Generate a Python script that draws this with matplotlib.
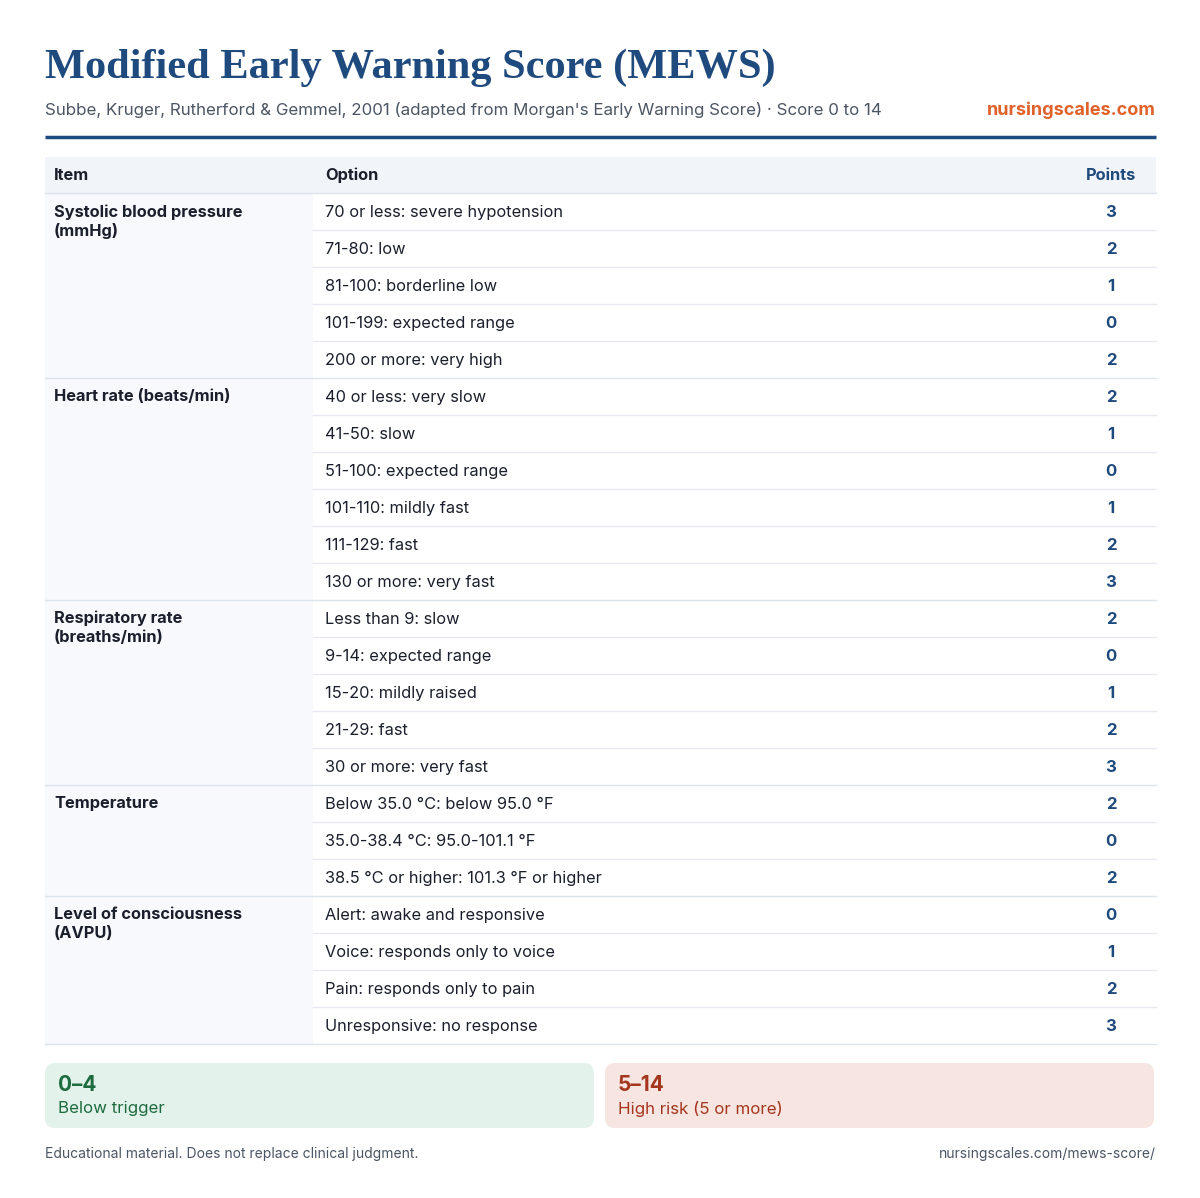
import matplotlib.pyplot as plt
from matplotlib.patches import Rectangle, FancyBboxPatch

# data
groups = ["Systolic blood pressure\n(mmHg)", "Heart rate (beats/min)",
          "Respiratory rate\n(breaths/min)", "Temperature",
          "Level of consciousness\n(AVPU)"]
options = [
    ["70 or less: severe hypotension", "71-80: low", "81-100: borderline low",
     "101-199: expected range", "200 or more: very high"],
    ["40 or less: very slow", "41-50: slow", "51-100: expected range",
     "101-110: mildly fast", "111-129: fast", "130 or more: very fast"],
    ["Less than 9: slow", "9-14: expected range", "15-20: mildly raised",
     "21-29: fast", "30 or more: very fast"],
    ["Below 35.0 °C: below 95.0 °F", "35.0-38.4 °C: 95.0-101.1 °F",
     "38.5 °C or higher: 101.3 °F or higher"],
    ["Alert: awake and responsive", "Voice: responds only to voice",
     "Pain: responds only to pain", "Unresponsive: no response"],
]
points = [[3, 2, 1, 0, 2], [2, 1, 0, 1, 2, 3], [2, 0, 1, 2, 3], [2, 0, 2], [0, 1, 2, 3]]
bands = [("0–4", "Below trigger"), ("5–14", "High risk (5 or more)")]

plt.rcParams['font.family'] = ['Inter', 'DejaVu Sans']
NAVY = "#1f4a7e"
TXT = "#1a1f2b"
GRAY = "#4b5563"

fig = plt.figure(figsize=(12, 11.98), dpi=100)
ax = fig.add_axes([0, 0, 1, 1])
ax.set_xlim(0, 1200)
ax.set_ylim(1198, 0)
ax.axis('off')

L, R = 45, 1156
ax.text(L, 68, "Modified Early Warning Score (MEWS)", family=['Liberation Serif', 'DejaVu Serif'],
        fontsize=30.5, fontweight='bold', color=NAVY, va='center')
ax.text(L, 110, "Subbe, Kruger, Rutherford & Gemmel, 2001 (adapted from Morgan's Early Warning Score) · Score 0 to 14",
        fontsize=12.2, color=GRAY, va='center')
ax.text(R, 110, "nursingscales.com", fontsize=13, fontweight='bold', color="#e0612a",
        va='center', ha='right')
ax.plot([L, R], [137, 137], color=NAVY, lw=2.5, solid_capstyle='butt')

# header
ax.add_patch(Rectangle((L, 157), R - L, 36, color="#f1f4f8", lw=0))
ax.text(54, 175, "Item", fontsize=11.8, fontweight='bold', color=TXT, va='center')
ax.text(325, 175, "Option", fontsize=11.8, fontweight='bold', color=TXT, va='center')
ax.text(1111, 175, "Points", fontsize=11.8, fontweight='bold', color=NAVY, va='center', ha='center')
ax.plot([L, R], [193, 193], color="#dde3ea", lw=1)

RH = 37
y = 193
for g, opts, pts in zip(groups, options, points):
    n = len(opts)
    ax.add_patch(Rectangle((L, y), 313 - L, n * RH, color="#f7f9fc", lw=0))
    ax.text(54, y + 11, g, fontsize=11.8, fontweight='bold', color=TXT, va='top', linespacing=1.3)
    for i, (o, p) in enumerate(zip(opts, pts)):
        cy = y + i * RH + RH / 2 + 1
        ax.text(325, cy, o, fontsize=11.8, color=TXT, va='center')
        ax.text(1111, cy, str(p), fontsize=12, fontweight='bold', color=NAVY, va='center', ha='center')
        if i < n - 1:
            ax.plot([313, R], [y + (i + 1) * RH] * 2, color="#e6eaf0", lw=1)
    y += n * RH
    ax.plot([L, R], [y, y], color="#dde3ea", lw=1)

# score bands
styles = [("#e3f3eb", "#1e6b3f"), ("#f6e5e1", "#a5361e")]
for (rng, lab), (bg, fg), x0 in zip(bands, styles, [L, 605]):
    ax.add_patch(FancyBboxPatch((x0, 1063), 551 - 2, 65, boxstyle="round,pad=0,rounding_size=10",
                                fc=bg, ec='none'))
    ax.text(x0 + 13, 1085, rng, fontsize=15, fontweight='bold', color=fg, va='center')
    ax.text(x0 + 13, 1109, lab, fontsize=12.2, color=fg, va='center')

ax.text(L, 1154, "Educational material. Does not replace clinical judgment.",
        fontsize=10, color=GRAY, va='center')
ax.text(R, 1154, "nursingscales.com/mews-score/", fontsize=10, color=GRAY, va='center', ha='right')

fig.savefig("out.png", dpi=100, facecolor='white')
